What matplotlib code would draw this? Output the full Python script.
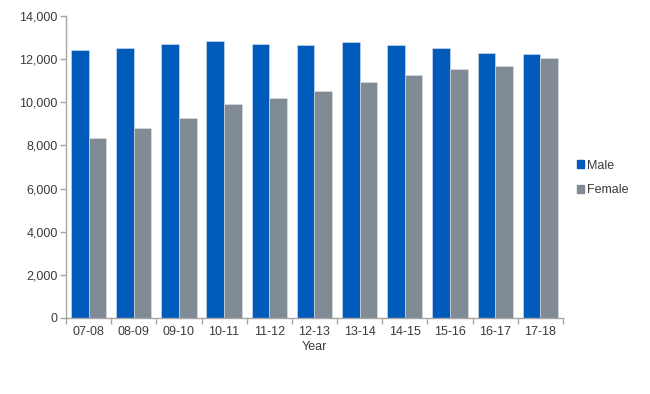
import numpy as np
import matplotlib.pyplot as plt
from matplotlib.patches import Patch

plt.rcParams['font.family'] = ['Liberation Sans', 'DejaVu Sans']

years = ['07-08', '08-09', '09-10', '10-11', '11-12', '12-13',
         '13-14', '14-15', '15-16', '16-17', '17-18']
male = [12450, 12510, 12710, 12870, 12700, 12670, 12780, 12670, 12530, 12300, 12250]
female = [8330, 8790, 9290, 9910, 10190, 10540, 10930, 11270, 11540, 11680, 12070]

blue = '#005bbb'
grey = '#808b96'
axis_col = '#a6a6a6'
text_col = '#3a3a3a'

fig = plt.figure(figsize=(6.5, 3.94), dpi=100)
ax = fig.add_axes([0.1015, 0.193, 0.7645, 0.766])

x = np.arange(len(years))
w = 0.39
ax.bar(x - w / 2, male, w, color=blue, edgecolor='#dbe3ee', linewidth=0.4)
ax.bar(x + w / 2, female, w, color=grey, edgecolor='#dfe1e3', linewidth=0.4)

ax.set_xlim(-0.5, len(years) - 0.5)
ax.set_ylim(0, 14000)
ax.set_yticks(range(0, 14001, 2000))
ax.set_yticklabels([f'{v:,}' for v in range(0, 14001, 2000)])
ax.set_xticks(x)
ax.set_xticklabels(years)
ax.set_xticks(np.arange(-0.5, len(years)), minor=True)
ax.tick_params(axis='x', which='major', length=0, pad=6)
ax.tick_params(axis='x', which='minor', length=4, color=axis_col, width=1)
ax.tick_params(axis='y', length=4, color=axis_col, width=1, pad=2)
ax.tick_params(labelsize=9, labelcolor=text_col)

for s in ['top', 'right']:
    ax.spines[s].set_visible(False)
for s in ['left', 'bottom']:
    ax.spines[s].set_color(axis_col)
    ax.spines[s].set_linewidth(1)

ax.set_xlabel('Year', fontsize=9, color=text_col, labelpad=2)

handles = [Patch(color=blue, label='Male'), Patch(color=grey, label='Female')]
fig.legend(handles=handles, loc='center left', bbox_to_anchor=(0.87, 0.548),
           frameon=False, fontsize=9, handlelength=0.6, handleheight=0.6,
           handletextpad=0.25, labelspacing=1.0, labelcolor=text_col)

fig.savefig('out.png', dpi=100)
